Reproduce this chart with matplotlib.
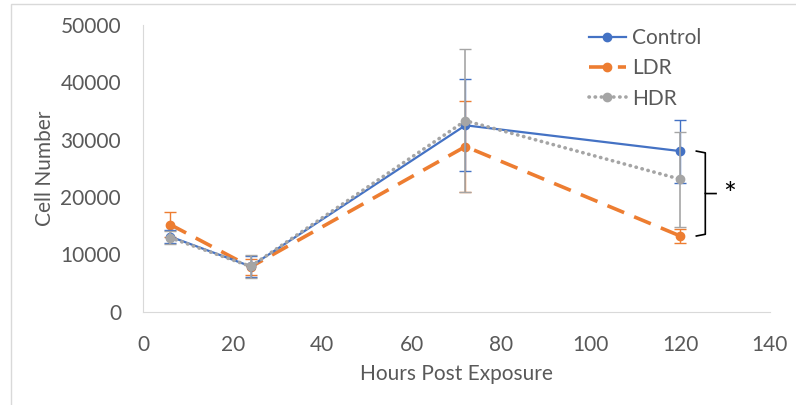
import matplotlib.pyplot as plt
from matplotlib.patches import Rectangle
from matplotlib.lines import Line2D

hours = [6, 24, 72, 120]

control = [13100, 7900, 32500, 28000]
control_err = [1200, 1800, 8000, 5500]
ldr = [15200, 7800, 28800, 13200]
ldr_err = [2200, 1400, 7900, 1200]
hdr = [12900, 7900, 33300, 23100]
hdr_err = [1100, 2000, 12500, 8300]

blue = '#4472C4'
orange = '#ED7D31'
grey = '#A5A5A5'
txt = '#595959'

plt.rcParams['font.family'] = ['Lato', 'DejaVu Sans']

fig = plt.figure(figsize=(7.96, 4.05), dpi=100)
fig.patches.append(Rectangle((11 / 796, -0.1), 1.2, 1 - 4 / 405 + 0.1, transform=fig.transFigure,
                             fill=False, edgecolor='#D9D9D9', linewidth=1))
ax = fig.add_axes([0.180, 0.2304, 0.787, 0.708])

styles = {
    'Control': dict(color=blue, lw=1.6, ls='-'),
    'LDR': dict(color=orange, lw=2.6, ls=(0, (5, 3))),
    'HDR': dict(color=grey, lw=2.6, ls=(0, (0.1, 1.6)), dash_capstyle='round'),
}

ax.errorbar(hours, control, yerr=control_err, marker='o', ms=6, ecolor=blue, elinewidth=1,
            capsize=4, zorder=3, **styles['Control'])
ax.errorbar(hours, ldr, yerr=ldr_err, marker='o', ms=6, ecolor=orange, elinewidth=1,
            capsize=4, zorder=2, **styles['LDR'])
ax.errorbar(hours, hdr, yerr=hdr_err, marker='o', ms=6, ecolor=grey, elinewidth=1.2,
            capsize=4, zorder=4, **styles['HDR'])

# significance bracket at the last time point
top, bot = control[-1], ldr[-1]
mid = (top + bot) / 2
xb = hours[-1]
ax.plot([xb + 3.6, xb + 5.6, xb + 5.6, xb + 8.0], [top, top - 300, mid, mid], color='black', lw=1.2,
        solid_joinstyle='round')
ax.plot([xb + 5.6, xb + 5.6, xb + 3.6], [mid, bot + 300, bot], color='black', lw=1.2)
ax.text(xb + 11, mid - 300, '*', fontsize=22, ha='center', va='center', color='black')

ax.set_xlim(0, 140)
ax.set_ylim(0, 50000)
ax.set_xticks(range(0, 141, 20))
ax.set_yticks(range(0, 50001, 10000))
ax.tick_params(length=0, labelsize=15, colors=txt)
ax.tick_params(axis='y', pad=16)
ax.tick_params(axis='x', pad=17)
for s in ['top', 'right']:
    ax.spines[s].set_visible(False)
for s in ['left', 'bottom']:
    ax.spines[s].set_color('#D9D9D9')
ax.set_xlabel('Hours Post Exposure', fontsize=15, color=txt, labelpad=6)
ax.set_ylabel('Cell Number', fontsize=15, color=txt, labelpad=4)

handles = [Line2D([], [], marker='o', ms=6, **styles[k]) for k in styles]
leg = ax.legend(handles, list(styles), loc='upper left', bbox_to_anchor=(0.681, 1.055), frameon=False,
                fontsize=15, handlelength=1.8, labelspacing=0.5, handletextpad=0.3)
for t in leg.get_texts():
    t.set_color(txt)

fig.savefig('out.png', dpi=100)
